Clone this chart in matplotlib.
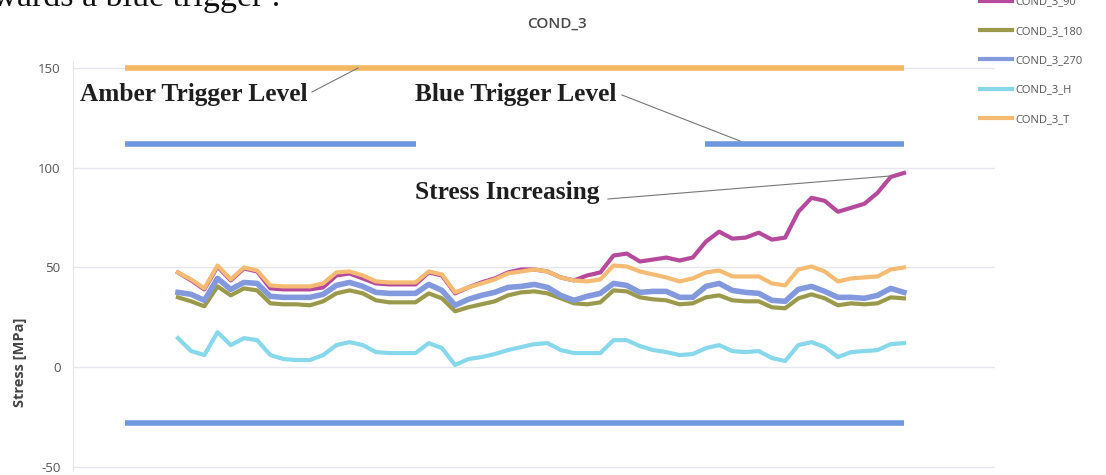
import matplotlib
matplotlib.use("Agg")
import matplotlib.pyplot as plt
from matplotlib.lines import Line2D
import numpy as np

# Stress readings per sample (MPa)
cond_3_90 = [47.5, 43.5, 39, 50.5, 43.5, 49.5, 48, 39.5, 39, 39, 39, 40, 46, 47, 44.5, 42,
             41.5, 41.5, 41.5, 47.5, 46, 37, 40, 42.5, 44.5, 47.5, 49, 49, 48, 45, 43.5, 46,
             47.5, 56, 57, 53, 54, 55, 53.5, 55, 63, 68, 64.5, 65, 67.5, 64, 65, 78, 85, 83.5,
             78, 80, 82, 87.5, 95.5, 97.5]
cond_3_180 = [35, 33, 30.5, 40.5, 36, 39.5, 38.5, 32, 31.5, 31.5, 31, 33, 37, 38.5, 37, 33.5,
              32.5, 32.5, 32.5, 37, 34.5, 28, 30, 31.5, 33, 36, 37.5, 38, 37, 34.5, 32, 31.5,
              32.5, 38.5, 38, 35, 34, 33.5, 31.5, 32, 35, 36, 33.5, 33, 33, 30, 29.5, 34.5,
              36.5, 34.5, 31, 32, 31.5, 32, 35, 34.5]
cond_3_270 = [37.5, 36.5, 33.5, 44.5, 39, 42.5, 42, 35.5, 35, 35, 35, 36.5, 41, 42.5, 40.5, 37.5,
              37, 37, 37, 41.5, 38.5, 31, 34, 36, 37.5, 40, 40.5, 41.5, 40, 36, 33.5, 35.5,
              37, 42, 41, 37.5, 38, 38, 35, 35, 40.5, 42, 38.5, 37.5, 37, 33.5, 33, 39, 40.5,
              38, 35, 35, 34.5, 36, 39.5, 37.5]
cond_3_h = [14.5, 8, 6, 17.5, 11, 14.5, 13.5, 6, 4, 3.5, 3.5, 6, 11, 12.5, 11, 7.5, 7, 7, 7,
            12, 9.5, 1, 4, 5, 6.5, 8.5, 10, 11.5, 12, 8.5, 7, 7, 7, 13.5, 13.5, 10.5, 8.5, 7.5,
            6, 6.5, 9.5, 11, 8, 7.5, 8, 4.5, 3, 11, 12.5, 10, 5, 7.5, 8, 8.5, 11.5, 12]
cond_3_t = [47.5, 44, 39.5, 51, 44, 50, 48.5, 41, 40.5, 40.5, 40.5, 42, 47.5, 48, 46, 43, 42.5,
            42.5, 42.5, 48, 46.5, 37.5, 40, 42, 44, 47, 48, 49, 48, 45, 43.5, 43, 44, 51, 50.5,
            48, 46.5, 45, 43, 44.5, 47.5, 48.5, 45.5, 45.5, 45.5, 42, 41, 49, 50.5, 48, 43,
            44.5, 45, 45.5, 49, 50]

# Trigger levels (MPa)
amber_trigger = 150
blue_trigger_upper = 112
blue_trigger_lower = -28

series_labels = ["COND_3_90", "COND_3_180", "COND_3_270", "COND_3_H", "COND_3_T"]
y_ticks = [-50, 0, 50, 100, 150]

W, H = 1106, 475
fig = plt.figure(figsize=(W / 100, H / 100), dpi=100)
fig.patch.set_facecolor("white")

ax = fig.add_axes([73 / W, 4.5 / H, (995 - 73) / W, 410 / H])
ax.set_ylim(-52, 154)
ax.set_xlim(-7.95, 61.9)

n = len(cond_3_t)
x = np.arange(n)

amber_c = "#f2b862"
trig_blue = "#6f97e0"
colors = {"90": "#b54a9c", "180": "#9b9a4c", "270": "#8399de", "H": "#86d8ea", "T": "#f5bb72"}

# Trigger level lines
ax.plot([-4, n - 1], [amber_trigger] * 2, color=amber_c, lw=4, solid_capstyle="butt", zorder=2)
ax.plot([-4, 18], [blue_trigger_upper] * 2, color=trig_blue, lw=4, solid_capstyle="butt", zorder=2)
ax.plot([39.9, n - 1], [blue_trigger_upper] * 2, color=trig_blue, lw=4, solid_capstyle="butt", zorder=2)
ax.plot([-4, n - 1], [blue_trigger_lower] * 2, color=trig_blue, lw=4, solid_capstyle="butt", zorder=2)

# Stress series
ax.plot(x, cond_3_90, color=colors["90"], lw=3, zorder=2.5)
ax.plot(x, cond_3_180, color=colors["180"], lw=3, zorder=3)
ax.plot(x, cond_3_270, color=colors["270"], lw=4, zorder=3)
ax.plot(x, cond_3_h, color=colors["H"], lw=3, zorder=3)
ax.plot(x, cond_3_t, color=colors["T"], lw=3, zorder=3)

# Axes styling
ax.set_yticks(y_ticks)
ax.set_yticklabels([str(v) for v in y_ticks], fontsize=9.5, color="#555555", family="Open Sans")
ax.tick_params(axis="y", length=0, pad=9)
ax.set_xticks([])
ax.grid(axis="y", color="#e6e7ee", lw=1)
ax.set_axisbelow(True)
for s in ["top", "right", "bottom"]:
    ax.spines[s].set_visible(False)
ax.spines["left"].set_color("#e6e7ee")

fig.text(20 / W, 1 - 362 / H, "Stress [MPa]", rotation=90, ha="center", va="center",
         fontsize=10.5, fontweight="bold", color="#444444", family="Open Sans")

fig.text(557 / W, 1 - 24 / H, "COND_3", ha="center", va="center", fontsize=11,
         fontweight="semibold", color="#4a4a4a", family="Open Sans")

# Legend
handles = [Line2D([], [], color=colors[k], lw=3) for k in ["90", "180", "270", "H", "T"]]
leg = fig.legend(handles, series_labels, loc="upper left", bbox_to_anchor=(976 / W, 1 + 8 / H),
                 frameon=False, fontsize=8, labelspacing=1.65, handlelength=2.8,
                 handletextpad=0.3, borderaxespad=0)
for t in leg.get_texts():
    t.set_color("#555555")
    t.set_family("Open Sans")

# Annotations
serif = "Liberation Serif"
ann = dict(fontsize=18.3, fontweight="bold", family=serif, color="#1e1e1e", va="center", ha="left")
fig.text(80 / W, 1 - 95 / H, "Amber Trigger Level", **ann)
fig.text(415 / W, 1 - 95 / H, "Blue Trigger Level", **ann)
fig.text(415 / W, 1 - 193 / H, "Stress Increasing", **ann)

leader = dict(color="#777777", lw=0.8)
fig.add_artist(Line2D([312 / W, 358 / W], [1 - 92 / H, 1 - 68 / H], **leader))
fig.add_artist(Line2D([622 / W, 740 / W], [1 - 95 / H, 1 - 141 / H], **leader))
fig.add_artist(Line2D([608 / W, 890 / W], [1 - 199 / H, 1 - 176 / H], **leader))

# Caption text running above the figure
fig.text(280 / W, 1 - 6 / H, "towards a blue trigger .", ha="right", va="baseline",
         fontsize=24.5, family=serif, color="#111111")

fig.savefig("out.png", dpi=100)
